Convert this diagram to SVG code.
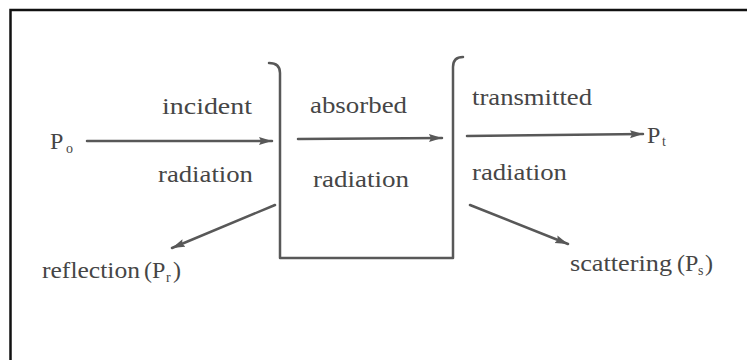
<svg xmlns="http://www.w3.org/2000/svg" width="747" height="360" viewBox="0 0 747 360">
  <style>
    text { font-family: "Liberation Serif", "Times New Roman", serif; font-size: 24px; fill: #464646; }
    .sub { font-size: 14px; }
    .line { fill: none; stroke: #585858; stroke-width: 2.5; stroke-linecap: round; stroke-linejoin: round; }
    .frame { fill: none; stroke: #111; stroke-width: 2.5; }
  </style>
  <defs>
    <marker id="arrow" markerUnits="userSpaceOnUse" markerWidth="14" markerHeight="10" refX="13" refY="4.5" orient="auto">
      <path d="M0,0.5 L13,4.5 L0,8.5 L2,4.5 z" fill="#585858"/>
    </marker>
  </defs>
  <rect width="747" height="360" fill="#fff"/>
  <rect class="frame" x="10.5" y="10" width="760" height="380"/>

  <g id="container">
    <path class="line" d="M269,63 Q280,63 280,73 L280,258 L453,258 L453,67 Q453,57 463,57"/>
  </g>

  <g id="connectors">
    <line class="line" x1="87" y1="141" x2="272" y2="141" marker-end="url(#arrow)"/>
    <line class="line" x1="298" y1="139" x2="442" y2="138" marker-end="url(#arrow)"/>
    <line class="line" x1="467" y1="136" x2="643" y2="134" marker-end="url(#arrow)"/>
    <line class="line" x1="275" y1="205" x2="172" y2="248" marker-end="url(#arrow)"/>
    <line class="line" x1="470" y1="205" x2="568" y2="244" marker-end="url(#arrow)"/>
  </g>

  <g id="p0">
    <text x="50" y="149">P</text>
    <text class="sub" x="66" y="153">o</text>
  </g>
  <g id="incident">
    <text x="162" y="114" textLength="90" lengthAdjust="spacingAndGlyphs">incident</text>
    <text x="158" y="182" textLength="95" lengthAdjust="spacingAndGlyphs">radiation</text>
  </g>
  <g id="absorbed">
    <text x="310" y="113" textLength="97" lengthAdjust="spacingAndGlyphs">absorbed</text>
    <text x="313" y="187" textLength="96" lengthAdjust="spacingAndGlyphs">radiation</text>
  </g>
  <g id="transmitted">
    <text x="472" y="105" textLength="120" lengthAdjust="spacingAndGlyphs">transmitted</text>
    <text x="472" y="180" textLength="95" lengthAdjust="spacingAndGlyphs">radiation</text>
  </g>
  <g id="pt">
    <text x="647" y="143">P</text>
    <text class="sub" x="662" y="146">t</text>
  </g>
  <g id="reflection">
    <text x="42" y="278" textLength="98" lengthAdjust="spacingAndGlyphs">reflection</text>
    <text x="144" y="278">(P</text>
    <text class="sub" x="166" y="282">r</text>
    <text x="173" y="278">)</text>
  </g>
  <g id="scattering">
    <text x="570" y="271" textLength="102" lengthAdjust="spacingAndGlyphs">scattering</text>
    <text x="677" y="271">(P</text>
    <text class="sub" x="698" y="275">s</text>
    <text x="705" y="271">)</text>
  </g>
</svg>
